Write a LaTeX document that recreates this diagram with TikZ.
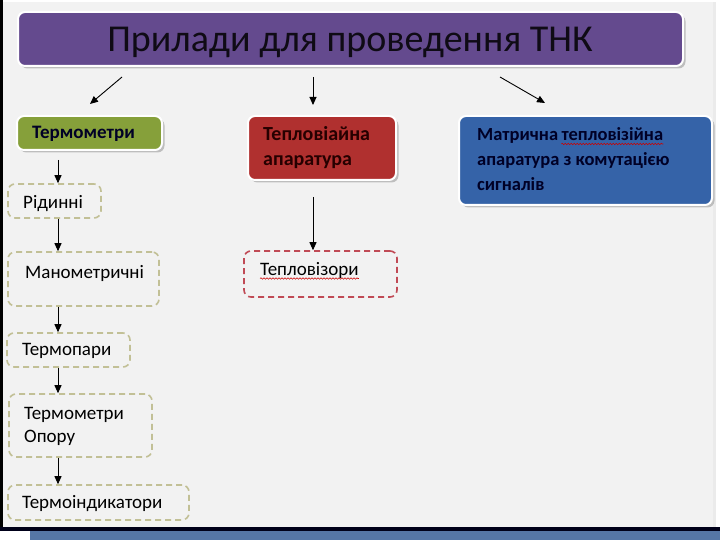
\documentclass[tikz,border=0pt]{standalone}
\usepackage{fontspec}
\setmainfont{Carlito}
\usetikzlibrary{arrows.meta,shadows,decorations.pathmorphing}
\definecolor{bgc}{HTML}{F2F2F2}
\definecolor{purp}{HTML}{644A8E}
\definecolor{grn}{HTML}{86A03A}
\definecolor{redb}{HTML}{B0302F}
\definecolor{blub}{HTML}{3563A8}
\definecolor{dgrn}{HTML}{C2C096}
\definecolor{dred}{HTML}{C04A55}
\definecolor{barb}{HTML}{5676A6}
\tikzset{
  solidbox/.style={draw=white,line width=2pt,rounded corners=7pt,inner sep=0pt,
    drop shadow={shadow xshift=2.5pt,shadow yshift=-2.5pt,fill=black!45,opacity=0.5}},
  dashbox/.style={draw=dgrn,line width=1.6pt,dash pattern=on 6pt off 4pt,rounded corners=7pt,inner sep=0pt,fill=bgc},
  reddash/.style={dashbox,draw=dred},
  txt/.style={inner sep=0pt,anchor=base west,font=\fontsize{19}{22}\selectfont,text=black},
  btxt/.style={txt,text=black!85!blue,font=\fontsize{19}{22}\selectfont\bfseries},
  rtxt/.style={txt,text=black!85!red,font=\fontsize{20}{22}\selectfont\bfseries},
  mtxt/.style={txt,text=black!85!blue,font=\fontsize{18.5}{22}\selectfont\bfseries},
  arr/.style={-{Triangle[length=8pt,width=7pt]},line width=0.9pt,black},
  spell/.style={draw=red!80!black,line width=0.6pt,decorate,decoration={snake,amplitude=0.7pt,segment length=3pt}}
}
\begin{document}
\begin{tikzpicture}[x=1pt,y=-1pt]
\useasboundingbox (0,0) rectangle (720,540);
\fill[white] (0,0) rectangle (720,540);
\fill[bgc] (3,2) rectangle (716,528);
\fill[black] (0,0) rectangle (3,530);
\fill[black!90!blue] (0,527) rectangle (720,531);
\fill[barb] (30,531) rectangle (720,540);
\fill[black!8] (713,2) rectangle (716,527);
% title
\node[solidbox,fill=purp,minimum width=665pt,minimum height=54pt] (title) at (350.5,39) {};
\node[inner sep=0pt,anchor=base,font=\fontsize{38}{44}\selectfont,text=black!85!purp] (tt) at (350,52) {Прилади для проведення ТНК};
% top level boxes
\node[solidbox,fill=grn,minimum width=145pt,minimum height=34pt] (term) at (89.5,133) {};
\node[btxt] (termt) at (32,138.5) {Термометри};
\node[solidbox,fill=redb,minimum width=148pt,minimum height=64pt] (tep) at (322,148) {};
\node[rtxt] (tept1) at (263,141) {Тепловіайна};
\node[rtxt] (tept2) at (263,166) {апаратура};
\node[solidbox,fill=blub,minimum width=253pt,minimum height=89pt] (mat) at (585.5,160.5) {};
\node[mtxt] (mat1a) at (477,141) {Матрична};
\node[mtxt,anchor=base west] (mat1b) at ([xshift=3pt]mat1a.base east) {тепловізійна};
\node[mtxt] (mat2) at (477,166) {апаратура з комутацією};
\node[mtxt] (mat3) at (477,190.5) {сигналів};
\draw[spell] ([yshift=-3pt]mat1b.base west) -- ([yshift=-3pt]mat1b.base east);
% left column
\node[dashbox,minimum width=93pt,minimum height=34pt] (rid) at (54.5,201) {};
\node[txt] (ridt) at (23,209) {Рідинні};
\node[dashbox,minimum width=151pt,minimum height=54pt] (man) at (83.5,279) {};
\node[txt] (mant) at (25,278) {Манометричні};
\node[dashbox,minimum width=123pt,minimum height=34pt] (tpar) at (68.5,350) {};
\node[txt] (tpart) at (22,355) {Термопари};
\node[dashbox,minimum width=143pt,minimum height=63pt] (opor) at (80.5,425.5) {};
\node[txt] (oport1) at (24,419) {Термометри};
\node[txt] (oport2) at (24,442) {Опору};
\node[dashbox,minimum width=181pt,minimum height=35pt] (ind) at (98.5,502.5) {};
\node[txt] (indt) at (22,508) {Термоіндикатори};
% middle
\node[reddash,minimum width=153pt,minimum height=46pt] (viz) at (320.5,274) {};
\node[txt] (vizt) at (260,275) {Тепловізори};
\draw[spell] ([yshift=-3.5pt]vizt.base west) -- ([yshift=-3.5pt]vizt.base east);
% arrows
\coordinate (a1) at (122,77); \coordinate (b1) at (90,104);
\coordinate (a2) at (313,77); \coordinate (b2) at (313,105);
\coordinate (a3) at (500,77); \coordinate (b3) at (545,103);
\coordinate (a4) at (58,160); \coordinate (a5) at (313,197);
\draw[arr] (a1) -- (b1);
\draw[arr] (a2) -- (b2);
\draw[arr] (a3) -- (b3);
\draw[arr] (a4) -- (a4 |- rid.north);
\draw[arr] (a4 |- rid.south) -- (a4 |- man.north);
\draw[arr] (a4 |- man.south) -- (a4 |- tpar.north);
\draw[arr] (a4 |- tpar.south) -- (a4 |- opor.north);
\draw[arr] (a4 |- opor.south) -- (a4 |- ind.north);
\draw[arr] (a5) -- (a5 |- viz.north);
\end{tikzpicture}
\end{document}
